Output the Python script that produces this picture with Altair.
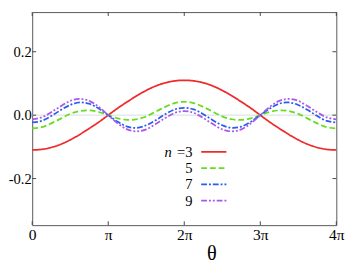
import altair as alt
import pandas as pd

# theta in units of pi
theta = [0, 0.125, 0.25, 0.375, 0.5, 0.625, 0.75, 0.875, 1.0, 1.125, 1.25, 1.375, 1.5,
         1.625, 1.75, 1.875, 2.0, 2.125, 2.25, 2.375, 2.5, 2.625, 2.75, 2.875, 3.0,
         3.125, 3.25, 3.375, 3.5, 3.625, 3.75, 3.875, 4.0]

n3 = [-0.110, -0.108, -0.102, -0.092, -0.078, -0.061, -0.042, -0.022, 0.000, 0.022, 0.042,
      0.061, 0.078, 0.092, 0.102, 0.108, 0.110, 0.108, 0.102, 0.092, 0.078, 0.061, 0.042,
      0.022, 0.000, -0.022, -0.042, -0.061, -0.078, -0.092, -0.102, -0.108, -0.110]
n5 = [-0.042, -0.038, -0.026, -0.011, 0.004, 0.013, 0.015, 0.010, 0.000, -0.010, -0.015,
      -0.013, -0.004, 0.011, 0.026, 0.038, 0.042, 0.038, 0.026, 0.011, -0.004, -0.013, -0.015,
      -0.010, 0.000, 0.010, 0.015, 0.013, 0.004, -0.011, -0.026, -0.038, -0.042]
n7 = [-0.023, -0.018, -0.003, 0.016, 0.032, 0.040, 0.036, 0.021, 0.000, -0.021, -0.036,
      -0.040, -0.032, -0.016, 0.003, 0.018, 0.023, 0.018, 0.003, -0.016, -0.032, -0.040, -0.036,
      -0.021, 0.000, 0.021, 0.036, 0.040, 0.032, 0.016, -0.003, -0.018, -0.023]
n9 = [-0.013, -0.007, 0.009, 0.028, 0.045, 0.051, 0.045, 0.026, 0.000, -0.026, -0.045,
      -0.051, -0.045, -0.028, -0.009, 0.007, 0.013, 0.007, -0.009, -0.028, -0.045, -0.051, -0.045,
      -0.026, 0.000, 0.026, 0.045, 0.051, 0.045, 0.028, 0.009, -0.007, -0.013]

series_names = ["3", "5", "7", "9"]
legend_labels = ["=3", "5", "7", "9"]
colors = ["#ee2a2a", "#66dd1e", "#2b5cf0", "#a957ec"]
dashes = [[1, 0], [6, 3], [6, 2, 2, 2], [6, 2, 2, 2, 2, 2]]

x_ticks = [0, 1, 2, 3, 4]
y_ticks = [-0.2, 0.0, 0.2]

rows = []
for name, vals in zip(series_names, [n3, n5, n7, n9]):
    for t, v in zip(theta, vals):
        rows.append({"theta": t, "value": v, "series": name})
df = pd.DataFrame(rows)

leg_df = pd.DataFrame({"series": series_names, "label": legend_labels, "row": [0, 1, 2, 3]})
n_df = pd.DataFrame({"row": [0], "label": ["n"]})
zero_df = pd.DataFrame({"z": [0.0]})
xt_df = pd.DataFrame({"t": x_ticks})
yt_df = pd.DataFrame({"v": y_ticks})

FONT = "Liberation Serif"
XDOM = [0, 4]
YDOM = [-0.347, 0.325]
W = 314
H = 220
TICK = 4
TICK_COLOR = "#444"

xscale = alt.Scale(domain=XDOM, nice=False, zero=False)
color_scale = alt.Scale(domain=series_names, range=colors)
dash_scale = alt.Scale(domain=series_names, range=dashes)
row_scale = alt.Scale(domain=[0, 3], range=[144.3, 194.7], nice=False, zero=False)

x_label_expr = "datum.value == 0 ? '0' : (datum.value == 1 ? 'π' : datum.value + 'π')"
y_label_expr = "replace(format(datum.value, '.1f'), '\u2212', '-')"


def yscale():
    return alt.Scale(domain=YDOM, nice=False, zero=False)


zero_rule = alt.Chart(zero_df).mark_rule(color="#dde6e6", strokeWidth=1.5).encode(
    y=alt.Y("z:Q", scale=yscale(), axis=None)
)

lines = alt.Chart(df).mark_line(strokeWidth=1.8, interpolate="natural").encode(
    x=alt.X("theta:Q", scale=xscale,
            axis=alt.Axis(orient="bottom", values=x_ticks, labelExpr=x_label_expr, ticks=False,
                          domain=False, grid=False, labelFont=FONT, labelFontSize=16,
                          labelColor="black", labelPadding=2, labelFlush=False,
                          labelOverlap=False, title="θ", titleFont=FONT, titleFontSize=21,
                          titleFontWeight="normal", titleColor="black", titleX=185,
                          titleY=35, titleAlign="center", titleBaseline="alphabetic")),
    y=alt.Y("value:Q", scale=yscale(),
            axis=alt.Axis(orient="left", values=y_ticks, labelExpr=y_label_expr, ticks=False,
                          domain=False, grid=False, labelFont=FONT, labelFontSize=15,
                          labelColor="black", labelPadding=1, labelFlush=False,
                          labelOverlap=False, title=None)),
    color=alt.Color("series:N", scale=color_scale, legend=None),
    strokeDash=alt.StrokeDash("series:N", scale=dash_scale, legend=None),
    detail="series:N",
)

# inward tick marks on all four sides
xt_bottom = alt.Chart(xt_df).mark_rule(color=TICK_COLOR, strokeWidth=1).encode(
    x=alt.X("t:Q", scale=xscale, axis=None), y=alt.value(H), y2=alt.value(H - TICK))
xt_top = alt.Chart(xt_df).mark_rule(color=TICK_COLOR, strokeWidth=1).encode(
    x=alt.X("t:Q", scale=xscale, axis=None), y=alt.value(0), y2=alt.value(TICK))
yt_left = alt.Chart(yt_df).mark_rule(color=TICK_COLOR, strokeWidth=1).encode(
    y=alt.Y("v:Q", scale=yscale(), axis=None), x=alt.value(0), x2=alt.value(TICK))
yt_right = alt.Chart(yt_df).mark_rule(color=TICK_COLOR, strokeWidth=1).encode(
    y=alt.Y("v:Q", scale=yscale(), axis=None), x=alt.value(W), x2=alt.value(W - TICK))

leg_lines = alt.Chart(leg_df).mark_rule(strokeWidth=1.8).encode(
    x=alt.value(179 + 28.5 - 33), x2=alt.value(205 + 28.5 - 33),
    y=alt.Y("row:Q", scale=row_scale, axis=None),
    color=alt.Color("series:N", scale=color_scale, legend=None),
    strokeDash=alt.StrokeDash("series:N", scale=dash_scale, legend=None),
)

leg_text = alt.Chart(leg_df).mark_text(align="right", baseline="middle", font=FONT,
                                       fontSize=15, color="black").encode(
    x=alt.value(170 + 28.5 - 33),
    y=alt.Y("row:Q", scale=row_scale, axis=None),
    text="label:N",
)

n_text = alt.Chart(n_df).mark_text(align="right", baseline="middle", font=FONT,
                                   fontSize=15, fontStyle="italic", color="black").encode(
    x=alt.value(148.5 + 28.5 - 33),
    y=alt.Y("row:Q", scale=row_scale, axis=None),
    text="label:N",
)

chart = alt.layer(
    zero_rule, lines, xt_bottom, xt_top, yt_left, yt_right, leg_lines, leg_text, n_text
).resolve_scale(
    y="independent"
).resolve_axis(
    x="independent", y="independent"
).properties(
    width=W, height=H,
    autosize=alt.AutoSizeParams(type="none"),
    padding={"left": 25, "top": 0, "right": 10, "bottom": 40},
    background="white",
).configure_view(
    stroke="#555", strokeWidth=1
)

chart.save("out.html", embed_options={"renderer": "svg", "actions": False})
